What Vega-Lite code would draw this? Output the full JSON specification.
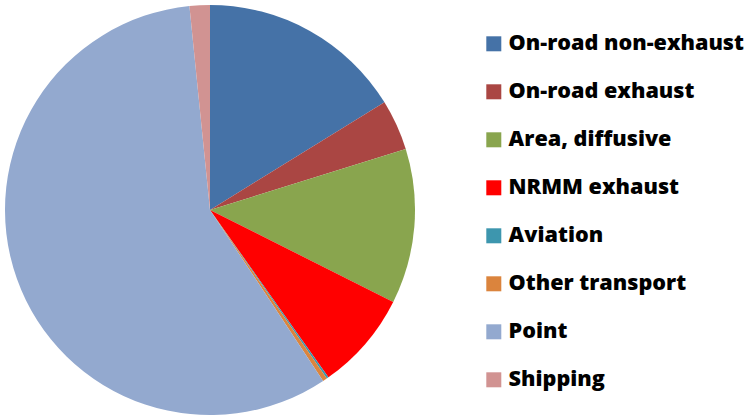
{
  "$schema": "https://vega.github.io/schema/vega-lite/v6.json",
  "width": 410,
  "height": 410,
  "padding": 5,
  "background": "white",
  "data": {
    "values": [
      {"source": "On-road non-exhaust", "share": 16.2, "idx": 1},
      {"source": "On-road exhaust", "share": 4.0, "idx": 2},
      {"source": "Area, diffusive", "share": 12.2, "idx": 3},
      {"source": "NRMM exhaust", "share": 7.8, "idx": 4},
      {"source": "Aviation", "share": 0.15, "idx": 5},
      {"source": "Other transport", "share": 0.35, "idx": 6},
      {"source": "Point", "share": 57.7, "idx": 7},
      {"source": "Shipping", "share": 1.6, "idx": 8}
    ]
  },
  "mark": {"type": "arc", "outerRadius": 205, "stroke": null},
  "encoding": {
    "theta": {"field": "share", "type": "quantitative", "stack": true},
    "order": {"field": "idx", "type": "quantitative"},
    "color": {
      "field": "source",
      "type": "nominal",
      "scale": {
        "domain": ["On-road non-exhaust", "On-road exhaust", "Area, diffusive", "NRMM exhaust", "Aviation", "Other transport", "Point", "Shipping"],
        "range": ["#4572A7", "#AA4643", "#89A54E", "#FF0000", "#3D96AE", "#DB843D", "#93A9CF", "#D19392"]
      },
      "legend": {
        "title": null,
        "orient": "none",
        "legendX": 478,
        "legendY": 28,
        "symbolType": "square",
        "symbolSize": 225,
        "symbolStrokeWidth": 0,
        "labelFont": "Open Sans",
        "labelFontWeight": 800,
        "labelFontSize": 21.6,
        "labelColor": "black",
        "labelOffset": 4,
        "labelLimit": 400,
        "rowPadding": 25
      }
    }
  },
  "config": {"view": {"stroke": null}}
}
